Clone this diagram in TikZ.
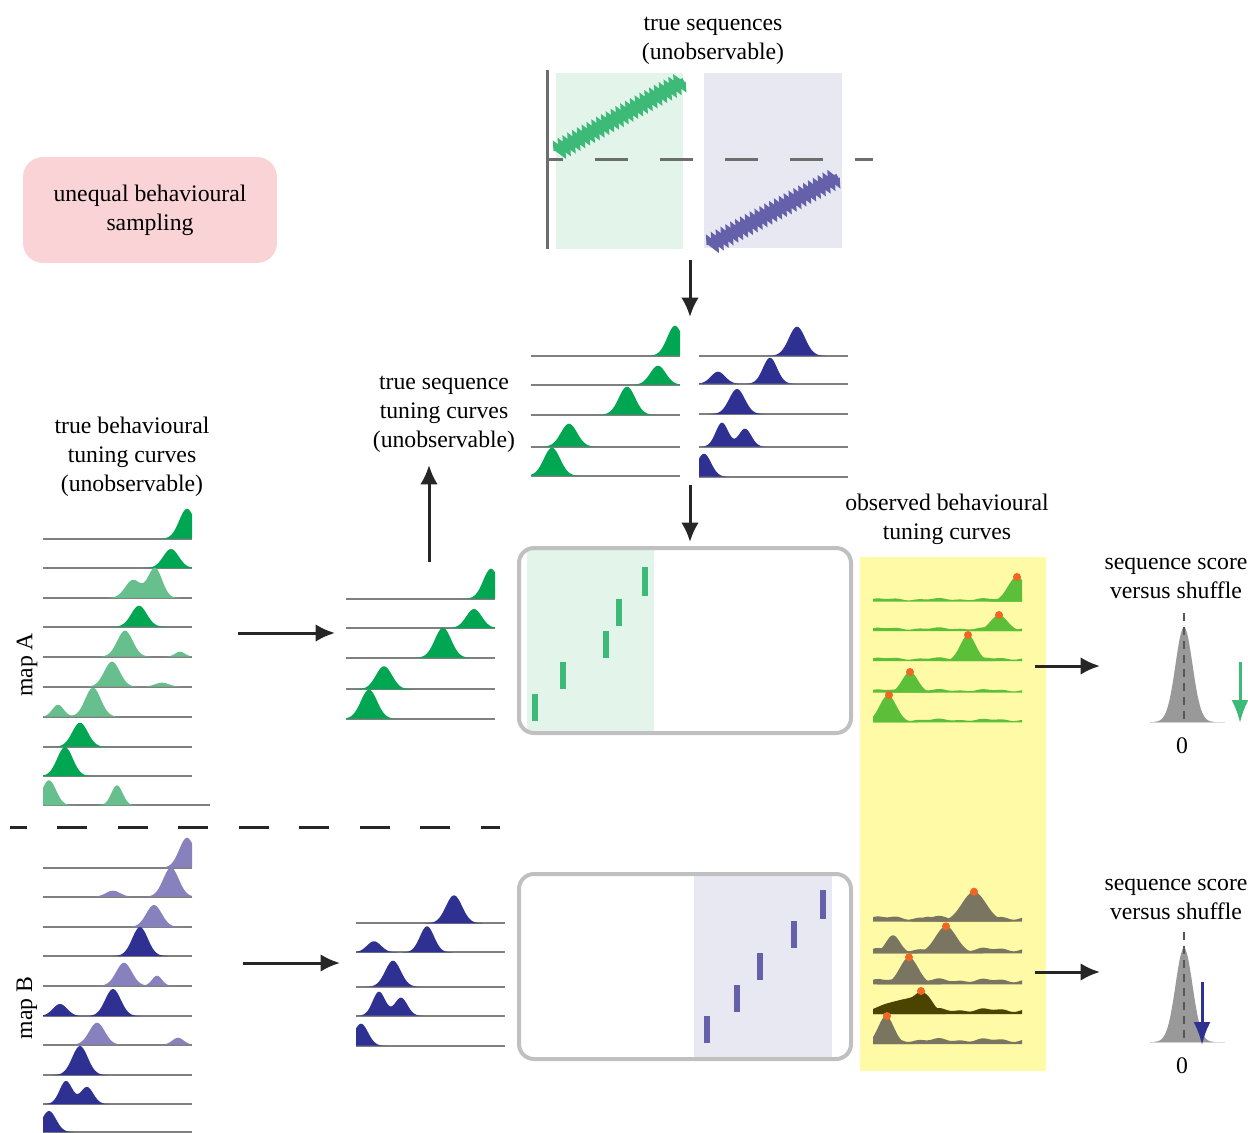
\documentclass[tikz,border=0pt]{standalone}
\usepackage{fontspec}
\setmainfont{Liberation Serif}
\usepackage{tikz}
\usetikzlibrary{arrows.meta, positioning, decorations.pathmorphing}
\tikzset{>={Latex[length=11pt,width=10pt]}}

\definecolor{tgreen}{HTML}{00A651}
\definecolor{tgreenL}{HTML}{66BF8C}
\definecolor{tblue}{HTML}{2E3192}
\definecolor{tblueL}{HTML}{8781BD}
\definecolor{seqgreen}{HTML}{3DBA78}
\definecolor{seqpurple}{HTML}{6560AA}
\definecolor{boxgreen}{HTML}{E3F4EA}
\definecolor{boxpurple}{HTML}{E8E8F2}
\definecolor{obsgreen}{HTML}{5CBF3A}
\definecolor{obsgray}{HTML}{7A7560}
\definecolor{obsdark}{HTML}{4B4300}
\definecolor{dotorange}{HTML}{F26522}
\definecolor{yellowbg}{HTML}{FFFAA5}
\definecolor{pinkbg}{HTML}{F9D3D5}
\definecolor{fgray}{HTML}{C0C0C0}
\definecolor{lgray}{HTML}{808080}
\definecolor{dgray}{HTML}{6D6D6D}
\definecolor{shufgray}{HTML}{999999}

% one tuning curve: colour, baseline, centre, height, spread
\newcommand{\tc}[5]{%
  \fill[#1] (#3-2.5*#5,#2) -- plot[domain=#3-2.5*#5:#3+2.5*#5,samples=41]
    (\x,{#2-#4*exp(-(\x-#3)*(\x-#3)/(#5*#5))}) -- (#3+2.5*#5,#2) -- cycle;}
% two-humped curve: colour, baseline, then centre/height/spread twice
\newcommand{\tcc}[8]{%
  \fill[#1] (#3-2.5*#5,#2) -- plot[domain=#3-2.5*#5:#6+2.5*#8,samples=61]
    (\x,{#2-#4*exp(-(\x-#3)*(\x-#3)/(#5*#5))-#7*exp(-(\x-#6)*(\x-#6)/(#8*#8))}) -- (#6+2.5*#8,#2) -- cycle;}
% noisy floor of an observed curve: colour, baseline, thickness
\newcommand{\obsfloor}[3]{%
  \fill[#1] (873,#2) -- plot[domain=873:1022,samples=80,smooth]
    (\x,{#2-#3-0.3*#3*sin(7*(\x-873))-0.2*#3*sin(17*(\x-873)+40)}) -- (1022,#2) -- cycle;}

\begin{document}
\begin{tikzpicture}[x=0.02cm, y=-0.02cm,
  lbl/.style={align=center, font=\fontsize{13.5}{16.5}\selectfont, inner sep=0pt},
  base/.style={draw=lgray, line width=0.04cm},
  arr/.style={->, line width=0.06cm, draw=black!85},
  frame/.style={draw=fgray, line width=0.08cm, rounded corners=0.3cm},
  zz/.style={line width=0.14cm, decorate, decoration={zigzag, segment length=0.11cm, amplitude=0.06cm}},
  zeroline/.style={draw=dgray!80!black, line width=0.04cm, dash pattern=on 0.16cm off 0.12cm}]
\useasboundingbox (0,0) rectangle (1248,1133);

% backgrounds
\fill[yellowbg] (860,557) rectangle (1046,1071);
\node[lbl, fill=pinkbg, rounded corners=0.4cm, minimum width=5.08cm, minimum height=2.12cm]
  (unequal) at (150,210) {unequal behavioural\\sampling};

% true sequences
\node[lbl] (seqtitle) at (713,41) {true sequences\\(unobservable)};
\fill[boxgreen] (556,73) rectangle (683,249);
\fill[boxpurple] (704,73) rectangle (842,248);
\draw[dgray, line width=0.06cm] (547,70) -- (547,249);
\draw[dgray, line width=0.06cm, dash pattern=on 0.66cm off 0.64cm, dash phase=0.34cm] (547,159) -- (873,159);
\coordinate (gA) at (557,151);
\coordinate (gB) at (684,81);
\coordinate (pA) at (710,245);
\coordinate (pB) at (838,177);
\draw[seqgreen, zz] (gA) -- (gB);
\draw[seqpurple, zz] (pA) -- (pB);

\coordinate (seqout) at (690,260);
\coordinate (tunin) at (690,317);
\draw[arr] (seqout) -- (tunin);

% true sequence tuning curves
\draw[base] (531,355.7) -- (680,355.7) (531,384.7) -- (680,384.7) (531,414.7) -- (680,414.7)
  (531,446.7) -- (680,446.7) (531,475.7) -- (680,475.7);
\draw[base] (699,355.7) -- (848,355.7) (699,383.7) -- (848,383.7) (699,414) -- (848,414)
  (699,446.7) -- (848,446.7) (699,476.7) -- (848,476.7);
\begin{scope}
  \clip (531,300) rectangle (680,480);
  \tc{tgreen}{355.7}{675}{30}{11}
  \tc{tgreen}{384.7}{658}{19}{11}
  \tc{tgreen}{414.7}{627}{28}{11.5}
  \tc{tgreen}{446.7}{569}{23}{11.5}
  \tc{tgreen}{475.7}{552}{28}{11.5}
\end{scope}
\begin{scope}
  \clip (699,300) rectangle (848,480);
  \tc{tblue}{355.7}{797}{29}{11.5}
  \tc{tblue}{383.7}{718}{12}{10}
  \tc{tblue}{383.7}{770}{26}{10}
  \tc{tblue}{414}{737}{25}{11}
  \tcc{tblue}{446.7}{722}{24}{9}{745}{18}{9}
  \tc{tblue}{476.7}{704}{23}{10}
\end{scope}
\node[lbl] (seqtun) at (444,414) {true sequence\\tuning curves\\(unobservable)};

\coordinate (tunout) at (690,485);
\coordinate (boxin) at (690,542);
\draw[arr] (tunout) -- (boxin);

% true behavioural tuning curves
\node[lbl] (behtun) at (132,457) {true behavioural\\tuning curves\\(unobservable)};
\node[lbl, rotate=90] (mapA) at (27,665) {map A};
\node[lbl, rotate=90] (mapB) at (27,1008) {map B};

\draw[base] (43,538.7) -- (192,538.7) (43,568) -- (192,568) (43,598) -- (192,598)
  (43,626.7) -- (192,626.7) (43,656.7) -- (192,656.7) (43,686.7) -- (192,686.7)
  (43,716.7) -- (192,716.7) (43,746.7) -- (192,746.7) (43,776) -- (192,776)
  (43,805.3) -- (210,805.3);
\begin{scope}
  \clip (43,480) rectangle (192,810);
  \tc{tgreen}{538.7}{187}{30}{11}
  \tc{tgreen}{568}{171}{19}{11}
  \tcc{tgreenL}{598}{133}{18}{11}{155}{30}{10}
  \tc{tgreen}{626.7}{139}{21}{11}
  \tc{tgreenL}{656.7}{125}{26}{11}
  \tc{tgreenL}{656.7}{180}{5}{7}
  \tc{tgreenL}{686.7}{112}{25}{11}
  \tc{tgreenL}{686.7}{162}{4}{10}
  \tcc{tgreenL}{716.7}{58}{12}{8}{93}{29}{11}
  \tc{tgreen}{746.7}{80}{24}{11}
  \tc{tgreen}{776}{65}{29}{11}
  \tc{tgreenL}{805.3}{49}{25}{10}
  \tc{tgreenL}{805.3}{117}{20}{8}
\end{scope}

\draw[black!85, line width=0.06cm, dash pattern=on 0.6cm off 0.61cm, dash phase=0.26cm] (10,827) -- (500,827);

\draw[base] (43,867.7) -- (192,867.7) (43,896.7) -- (192,896.7) (43,927) -- (192,927)
  (43,956) -- (192,956) (43,985.7) -- (192,985.7) (43,1016) -- (192,1016)
  (43,1044.7) -- (192,1044.7) (43,1075) -- (192,1075) (43,1104) -- (192,1104)
  (43,1132) -- (192,1132);
\begin{scope}
  \clip (43,830) rectangle (192,1133);
  \tc{tblueL}{867.7}{187}{30}{11}
  \tc{tblueL}{896.7}{171}{29}{11}
  \tc{tblueL}{896.7}{113}{6}{10}
  \tc{tblueL}{927}{154}{22}{11}
  \tc{tblue}{956}{140}{29}{11}
  \tc{tblueL}{985.7}{124}{23}{11}
  \tc{tblueL}{985.7}{157}{10}{7}
  \tc{tblue}{1016}{113}{27}{11}
  \tc{tblue}{1016}{60}{12}{10}
  \tc{tblueL}{1044.7}{97}{22}{11}
  \tc{tblueL}{1044.7}{178}{7}{8}
  \tc{tblue}{1075}{80}{29}{11}
  \tcc{tblue}{1104}{66}{23}{9}{87}{17}{9}
  \tc{tblue}{1132}{49}{21}{10}
\end{scope}

% map A / map B picked out by the true sequences
\coordinate (mapAout) at (238,633);
\coordinate (midAin) at (335,633);
\coordinate (mapBout) at (243,963);
\coordinate (midBin) at (340,963);
\draw[arr] (mapAout) -- (midAin);
\draw[arr] (mapBout) -- (midBin);
\coordinate (midAout) at (429,562);
\coordinate (seqtunin) at (429,465);
\draw[arr] (midAout) -- (seqtunin);

\draw[base] (346,598.7) -- (495,598.7) (346,628) -- (495,628) (346,657.7) -- (495,657.7)
  (346,689.3) -- (495,689.3) (346,718.7) -- (495,718.7);
\begin{scope}
  \clip (346,540) rectangle (495,720);
  \tc{tgreen}{598.7}{491}{30}{11}
  \tc{tgreen}{628}{474}{19}{11}
  \tc{tgreen}{657.7}{443}{30}{11.5}
  \tc{tgreen}{689.3}{384}{23}{11.5}
  \tc{tgreen}{718.7}{369}{29}{11.5}
\end{scope}
\draw[base] (356,923.3) -- (505,923.3) (356,952.3) -- (505,952.3) (356,986.7) -- (505,986.7)
  (356,1015.7) -- (505,1015.7) (356,1045.7) -- (505,1045.7);
\begin{scope}
  \clip (356,860) rectangle (505,1047);
  \tc{tblue}{923.3}{454}{28}{11.5}
  \tc{tblue}{952.3}{374}{11}{10}
  \tc{tblue}{952.3}{427}{26}{10}
  \tc{tblue}{986.7}{393}{26}{11}
  \tcc{tblue}{1015.7}{379}{24}{9}{401}{18}{9}
  \tc{tblue}{1045.7}{361}{22}{10}
\end{scope}

% replay events
\fill[boxgreen] (527,550) rectangle (654,731);
\fill[seqgreen] (532,694) rectangle (538,721);
\fill[seqgreen] (560,662) rectangle (566,689);
\fill[seqgreen] (603,631) rectangle (609,658);
\fill[seqgreen] (616,599) rectangle (622,626);
\fill[seqgreen] (642,567) rectangle (648,596);
\draw[frame] (519,548) rectangle (851,733);

\fill[boxpurple] (694,876) rectangle (832,1057);
\fill[seqpurple] (704,1016) rectangle (710,1043);
\fill[seqpurple] (734,985) rectangle (740,1012);
\fill[seqpurple] (757,953) rectangle (763,980);
\fill[seqpurple] (791,921) rectangle (797,948);
\fill[seqpurple] (820,890) rectangle (826,919);
\draw[frame] (519,874) rectangle (851,1059);

% observed behavioural tuning curves
\node[lbl] (obstun) at (947,519) {observed behavioural\\tuning curves};
\begin{scope}
  \clip (873,540) rectangle (1022,1050);
  \obsfloor{obsgreen}{601.7}{2.5}
  \obsfloor{obsgreen}{631}{2.5}
  \obsfloor{obsgreen}{661}{2.5}
  \obsfloor{obsgreen}{692.7}{2.5}
  \obsfloor{obsgreen}{722.3}{2.5}
  \tc{obsgreen}{601.7}{1017}{25}{13}
  \tc{obsgreen}{631}{999}{16}{12}
  \tc{obsgreen}{661}{968}{26}{11}
  \tc{obsgreen}{692.7}{910}{21}{11}
  \tc{obsgreen}{722.3}{888}{27}{12}
  \obsfloor{obsgray}{921.7}{4}
  \obsfloor{obsgray}{953.3}{4}
  \obsfloor{obsgray}{984.3}{4}
  \obsfloor{obsdark}{1014}{4}
  \obsfloor{obsgray}{1044}{4}
  \tc{obsgray}{921.7}{974}{30}{17}
  \tc{obsgray}{921.7}{928}{5}{10}
  \tc{obsgray}{953.3}{893}{18}{10}
  \tc{obsgray}{953.3}{946}{27}{15}
  \tc{obsgray}{984.3}{909}{27}{13}
  \fill[obsdark] (873,1014) -- plot[smooth] coordinates {(873,1009) (885,1004) (900,1000)
    (912,997) (921,991) (929,997) (937,1008) (946,1011)} -- (946,1014) -- cycle;
  \tc{obsgray}{1044}{886}{28}{11}
\end{scope}
\fill[dotorange] (1017,577) circle[radius=0.08cm];
\fill[dotorange] (999,615) circle[radius=0.08cm];
\fill[dotorange] (968,635) circle[radius=0.08cm];
\fill[dotorange] (910,672) circle[radius=0.08cm];
\fill[dotorange] (889,695) circle[radius=0.08cm];
\fill[dotorange] (974,891.7) circle[radius=0.08cm];
\fill[dotorange] (946,926.3) circle[radius=0.08cm];
\fill[dotorange] (909,957.3) circle[radius=0.08cm];
\fill[dotorange] (921,991) circle[radius=0.08cm];
\fill[dotorange] (887,1016) circle[radius=0.08cm];

% sequence scores
\coordinate (obsAout) at (1035,666);
\coordinate (scoreAin) at (1100,666);
\coordinate (obsBout) at (1035,972);
\coordinate (scoreBin) at (1100,972);
\draw[arr] (obsAout) -- (scoreAin);
\draw[arr] (obsBout) -- (scoreBin);

\node[lbl] (scoreA) at (1176,578) {sequence score\\versus shuffle};
\draw[gray!30, line width=0.02cm] (1150,722) -- (1225,722);
\tc{shufgray}{722}{1184}{95}{12}
\draw[zeroline] (1184,613) -- (1184,722);
\node[lbl] (zeroA) at (1182,746) {0};
\coordinate (scA) at (1240,662);
\coordinate (scAtip) at (1240,723);
\draw[seqgreen, line width=0.06cm, -{Latex[length=0.46cm,width=0.34cm]}] (scA) -- (scAtip);

\node[lbl] (scoreB) at (1176,899) {sequence score\\versus shuffle};
\draw[gray!30, line width=0.02cm] (1150,1042) -- (1225,1042);
\tc{shufgray}{1042}{1184}{94}{12}
\draw[zeroline] (1184,932) -- (1184,1042);
\node[lbl] (zeroB) at (1182,1066) {0};
\coordinate (scB) at (1202,982);
\coordinate (scBtip) at (1202,1045);
\draw[tblue, line width=0.06cm, -{Latex[length=0.46cm,width=0.34cm]}] (scB) -- (scBtip);
\end{tikzpicture}
\end{document}
